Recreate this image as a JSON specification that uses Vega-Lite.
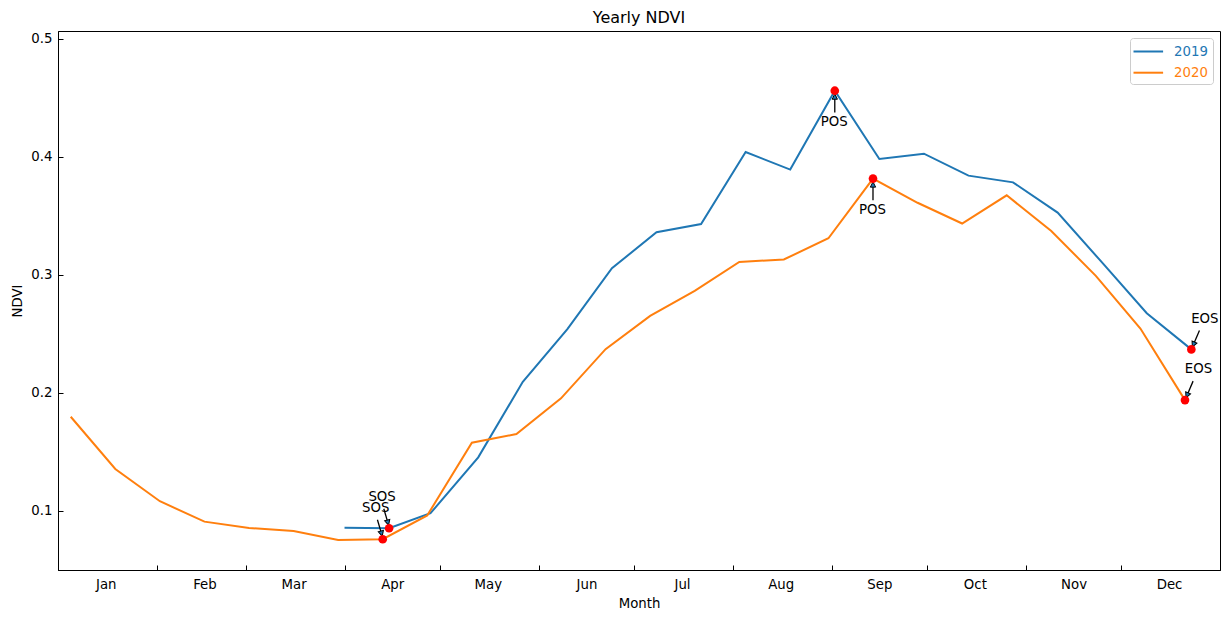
{
  "$schema": "https://vega.github.io/schema/vega-lite/v6.json",
  "width": 1162,
  "height": 539,
  "autosize": "none",
  "padding": {"left": 58, "top": 31, "right": 10, "bottom": 50},
  "background": "white",
  "title": {"text": "Yearly NDVI", "fontSize": 16, "fontWeight": "normal", "color": "black", "offset": 5},
  "config": {
    "font": "DejaVu Sans",
    "view": {"stroke": "black", "strokeWidth": 1},
    "axis": {"grid": false, "domainColor": "black", "tickColor": "black", "labelColor": "black", "titleColor": "black", "labelFontSize": 13.3, "titleFontSize": 13.3, "titleFontWeight": "normal", "tickWidth": 1, "domainWidth": 1}
  },
  "data": {"values": [
    {"year": "2019", "date": "2019/04/01", "ndvi": 0.0856, "event": ""},
    {"year": "2019", "date": "2019/04/15", "ndvi": 0.0851, "event": "SOS"},
    {"year": "2019", "date": "2019/04/28", "ndvi": 0.0978, "event": ""},
    {"year": "2019", "date": "2019/05/13", "ndvi": 0.1452, "event": ""},
    {"year": "2019", "date": "2019/05/27", "ndvi": 0.2092, "event": ""},
    {"year": "2019", "date": "2019/06/10", "ndvi": 0.2539, "event": ""},
    {"year": "2019", "date": "2019/06/24", "ndvi": 0.3055, "event": ""},
    {"year": "2019", "date": "2019/07/08", "ndvi": 0.3360, "event": ""},
    {"year": "2019", "date": "2019/07/22", "ndvi": 0.3430, "event": ""},
    {"year": "2019", "date": "2019/08/05", "ndvi": 0.4040, "event": ""},
    {"year": "2019", "date": "2019/08/19", "ndvi": 0.3891, "event": ""},
    {"year": "2019", "date": "2019/09/02", "ndvi": 0.4560, "event": "POS"},
    {"year": "2019", "date": "2019/09/16", "ndvi": 0.3981, "event": ""},
    {"year": "2019", "date": "2019/09/30", "ndvi": 0.4026, "event": ""},
    {"year": "2019", "date": "2019/10/14", "ndvi": 0.3840, "event": ""},
    {"year": "2019", "date": "2019/10/28", "ndvi": 0.3783, "event": ""},
    {"year": "2019", "date": "2019/11/11", "ndvi": 0.3527, "event": ""},
    {"year": "2019", "date": "2019/11/25", "ndvi": 0.3102, "event": ""},
    {"year": "2019", "date": "2019/12/09", "ndvi": 0.2674, "event": ""},
    {"year": "2019", "date": "2019/12/23", "ndvi": 0.2367, "event": "EOS"},
    {"year": "2020", "date": "2019/01/05", "ndvi": 0.1796, "event": ""},
    {"year": "2020", "date": "2019/01/19", "ndvi": 0.1353, "event": ""},
    {"year": "2020", "date": "2019/02/02", "ndvi": 0.1080, "event": ""},
    {"year": "2020", "date": "2019/02/16", "ndvi": 0.0907, "event": ""},
    {"year": "2020", "date": "2019/03/02", "ndvi": 0.0853, "event": ""},
    {"year": "2020", "date": "2019/03/16", "ndvi": 0.0827, "event": ""},
    {"year": "2020", "date": "2019/03/30", "ndvi": 0.0752, "event": ""},
    {"year": "2020", "date": "2019/04/13", "ndvi": 0.0758, "event": "SOS"},
    {"year": "2020", "date": "2019/04/27", "ndvi": 0.0960, "event": ""},
    {"year": "2020", "date": "2019/05/11", "ndvi": 0.1576, "event": ""},
    {"year": "2020", "date": "2019/05/25", "ndvi": 0.1649, "event": ""},
    {"year": "2020", "date": "2019/06/08", "ndvi": 0.1952, "event": ""},
    {"year": "2020", "date": "2019/06/22", "ndvi": 0.2369, "event": ""},
    {"year": "2020", "date": "2019/07/06", "ndvi": 0.2651, "event": ""},
    {"year": "2020", "date": "2019/07/20", "ndvi": 0.2863, "event": ""},
    {"year": "2020", "date": "2019/08/03", "ndvi": 0.3108, "event": ""},
    {"year": "2020", "date": "2019/08/17", "ndvi": 0.3129, "event": ""},
    {"year": "2020", "date": "2019/08/31", "ndvi": 0.3309, "event": ""},
    {"year": "2020", "date": "2019/09/14", "ndvi": 0.3815, "event": "POS"},
    {"year": "2020", "date": "2019/09/28", "ndvi": 0.3610, "event": ""},
    {"year": "2020", "date": "2019/10/12", "ndvi": 0.3434, "event": ""},
    {"year": "2020", "date": "2019/10/26", "ndvi": 0.3673, "event": ""},
    {"year": "2020", "date": "2019/11/09", "ndvi": 0.3371, "event": ""},
    {"year": "2020", "date": "2019/11/23", "ndvi": 0.2990, "event": ""},
    {"year": "2020", "date": "2019/12/07", "ndvi": 0.2544, "event": ""},
    {"year": "2020", "date": "2019/12/21", "ndvi": 0.1937, "event": "EOS"}
  ]},
  "encoding": {
    "x": {
      "field": "date", "type": "temporal", "title": "Month",
      "scale": {"domain": [{"year": 2019, "month": 1, "date": 1}, {"year": 2020, "month": 1, "date": 1}], "nice": false},
      "axis": {
        "values": [
          {"year": 2019, "month": 1, "date": 1}, {"year": 2019, "month": 1, "date": 16},
          {"year": 2019, "month": 2, "date": 1}, {"year": 2019, "month": 2, "date": 16},
          {"year": 2019, "month": 3, "date": 1}, {"year": 2019, "month": 3, "date": 16},
          {"year": 2019, "month": 4, "date": 1}, {"year": 2019, "month": 4, "date": 16},
          {"year": 2019, "month": 5, "date": 1}, {"year": 2019, "month": 5, "date": 16},
          {"year": 2019, "month": 6, "date": 1}, {"year": 2019, "month": 6, "date": 16},
          {"year": 2019, "month": 7, "date": 1}, {"year": 2019, "month": 7, "date": 16},
          {"year": 2019, "month": 8, "date": 1}, {"year": 2019, "month": 8, "date": 16},
          {"year": 2019, "month": 9, "date": 1}, {"year": 2019, "month": 9, "date": 16},
          {"year": 2019, "month": 10, "date": 1}, {"year": 2019, "month": 10, "date": 16},
          {"year": 2019, "month": 11, "date": 1}, {"year": 2019, "month": 11, "date": 16},
          {"year": 2019, "month": 12, "date": 1}, {"year": 2019, "month": 12, "date": 16},
          {"year": 2020, "month": 1, "date": 1}
        ],
        "labelExpr": "date(datum.value) == 16 ? timeFormat(datum.value, '%b') : ''",
        "tickOpacity": {"condition": {"test": "date(datum.value) == 1", "value": 1}, "value": 0},
        "tickSize": -5,
        "labelPadding": 12,
        "labelOverlap": false,
        "labelFlush": false,
        "labelBound": false,
        "titlePadding": 6
      }
    },
    "y": {
      "field": "ndvi", "type": "quantitative", "title": "NDVI",
      "scale": {"domain": [0.0497, 0.5066], "nice": false, "zero": false},
      "axis": {"values": [0.1, 0.2, 0.3, 0.4, 0.5], "format": ".1f", "tickSize": -5, "labelPadding": 11, "titlePadding": 6}
    }
  },
  "layer": [
    {
      "mark": {"type": "line", "strokeWidth": 2},
      "encoding": {
        "color": {
          "field": "year", "type": "nominal",
          "scale": {"domain": ["2019", "2020"], "range": ["#1f77b4", "#ff7f0e"]},
          "legend": {
            "title": null, "orient": "top-right", "offset": 7, "padding": 5,
            "strokeColor": "#cccccc", "fillColor": "white", "cornerRadius": 3,
            "symbolType": "M-2,0L2,0", "symbolSize": 219, "symbolStrokeWidth": 2,
            "symbolOffset": 4.8, "labelOffset": 17.2, "rowPadding": 6.2,
            "labelFontSize": 13.3, "labelFont": "DejaVu Sans",
            "encode": {"labels": {"update": {"fill": {"signal": "scale('color', datum.value)"}}}}
          }
        }
      }
    },
    {
      "transform": [{"filter": "datum.event == 'SOS'"}],
      "mark": {"type": "rule", "color": "black", "strokeWidth": 1.3, "xOffset": -5.3, "yOffset": -19.5, "x2Offset": -1.2, "y2Offset": -5.6},
      "encoding": {"x2": {"field": "date"}, "y2": {"field": "ndvi"}}
    },
    {
      "transform": [{"filter": "datum.event == 'POS'"}],
      "mark": {"type": "rule", "color": "black", "strokeWidth": 1.3, "xOffset": 0, "yOffset": 21.7, "x2Offset": 0, "y2Offset": 6},
      "encoding": {"x2": {"field": "date"}, "y2": {"field": "ndvi"}}
    },
    {
      "transform": [{"filter": "datum.event == 'EOS'"}],
      "mark": {"type": "rule", "color": "black", "strokeWidth": 1.3, "xOffset": 8.1, "yOffset": -19, "x2Offset": 2.1, "y2Offset": -4.9},
      "encoding": {"x2": {"field": "date"}, "y2": {"field": "ndvi"}}
    },
    {
      "transform": [{"filter": "datum.event == 'SOS'"}],
      "mark": {"type": "point", "shape": "M0,-1L1,1L-1,1Z", "size": 28, "filled": true, "fill": "#1f77b4", "stroke": "black", "strokeWidth": 1, "opacity": 1, "angle": 165, "xOffset": -1.2, "yOffset": -5.6}
    },
    {
      "transform": [{"filter": "datum.event == 'POS'"}],
      "mark": {"type": "point", "shape": "M0,-1L1,1L-1,1Z", "size": 28, "filled": true, "fill": "#1f77b4", "stroke": "black", "strokeWidth": 1, "opacity": 1, "angle": 0, "xOffset": 0, "yOffset": 5.9}
    },
    {
      "transform": [{"filter": "datum.event == 'EOS'"}],
      "mark": {"type": "point", "shape": "M0,-1L1,1L-1,1Z", "size": 28, "filled": true, "fill": "#1f77b4", "stroke": "black", "strokeWidth": 1, "opacity": 1, "angle": 203, "xOffset": 2.1, "yOffset": -4.9}
    },
    {
      "transform": [{"filter": "datum.event != ''"}],
      "mark": {"type": "circle", "size": 75, "color": "red", "opacity": 1}
    },
    {
      "transform": [{"filter": "datum.event == 'SOS'"}],
      "mark": {"type": "text", "fontSize": 13.3, "color": "black", "align": "center", "baseline": "alphabetic", "dx": -7, "dy": -27.2},
      "encoding": {"text": {"field": "event"}}
    },
    {
      "transform": [{"filter": "datum.event == 'POS'"}],
      "mark": {"type": "text", "fontSize": 13.3, "color": "black", "align": "center", "baseline": "alphabetic", "dx": -0.5, "dy": 35.3},
      "encoding": {"text": {"field": "event"}}
    },
    {
      "transform": [{"filter": "datum.event == 'EOS'"}],
      "mark": {"type": "text", "fontSize": 13.3, "color": "black", "align": "center", "baseline": "alphabetic", "dx": 13.5, "dy": -26.7},
      "encoding": {"text": {"field": "event"}}
    }
  ]
}
